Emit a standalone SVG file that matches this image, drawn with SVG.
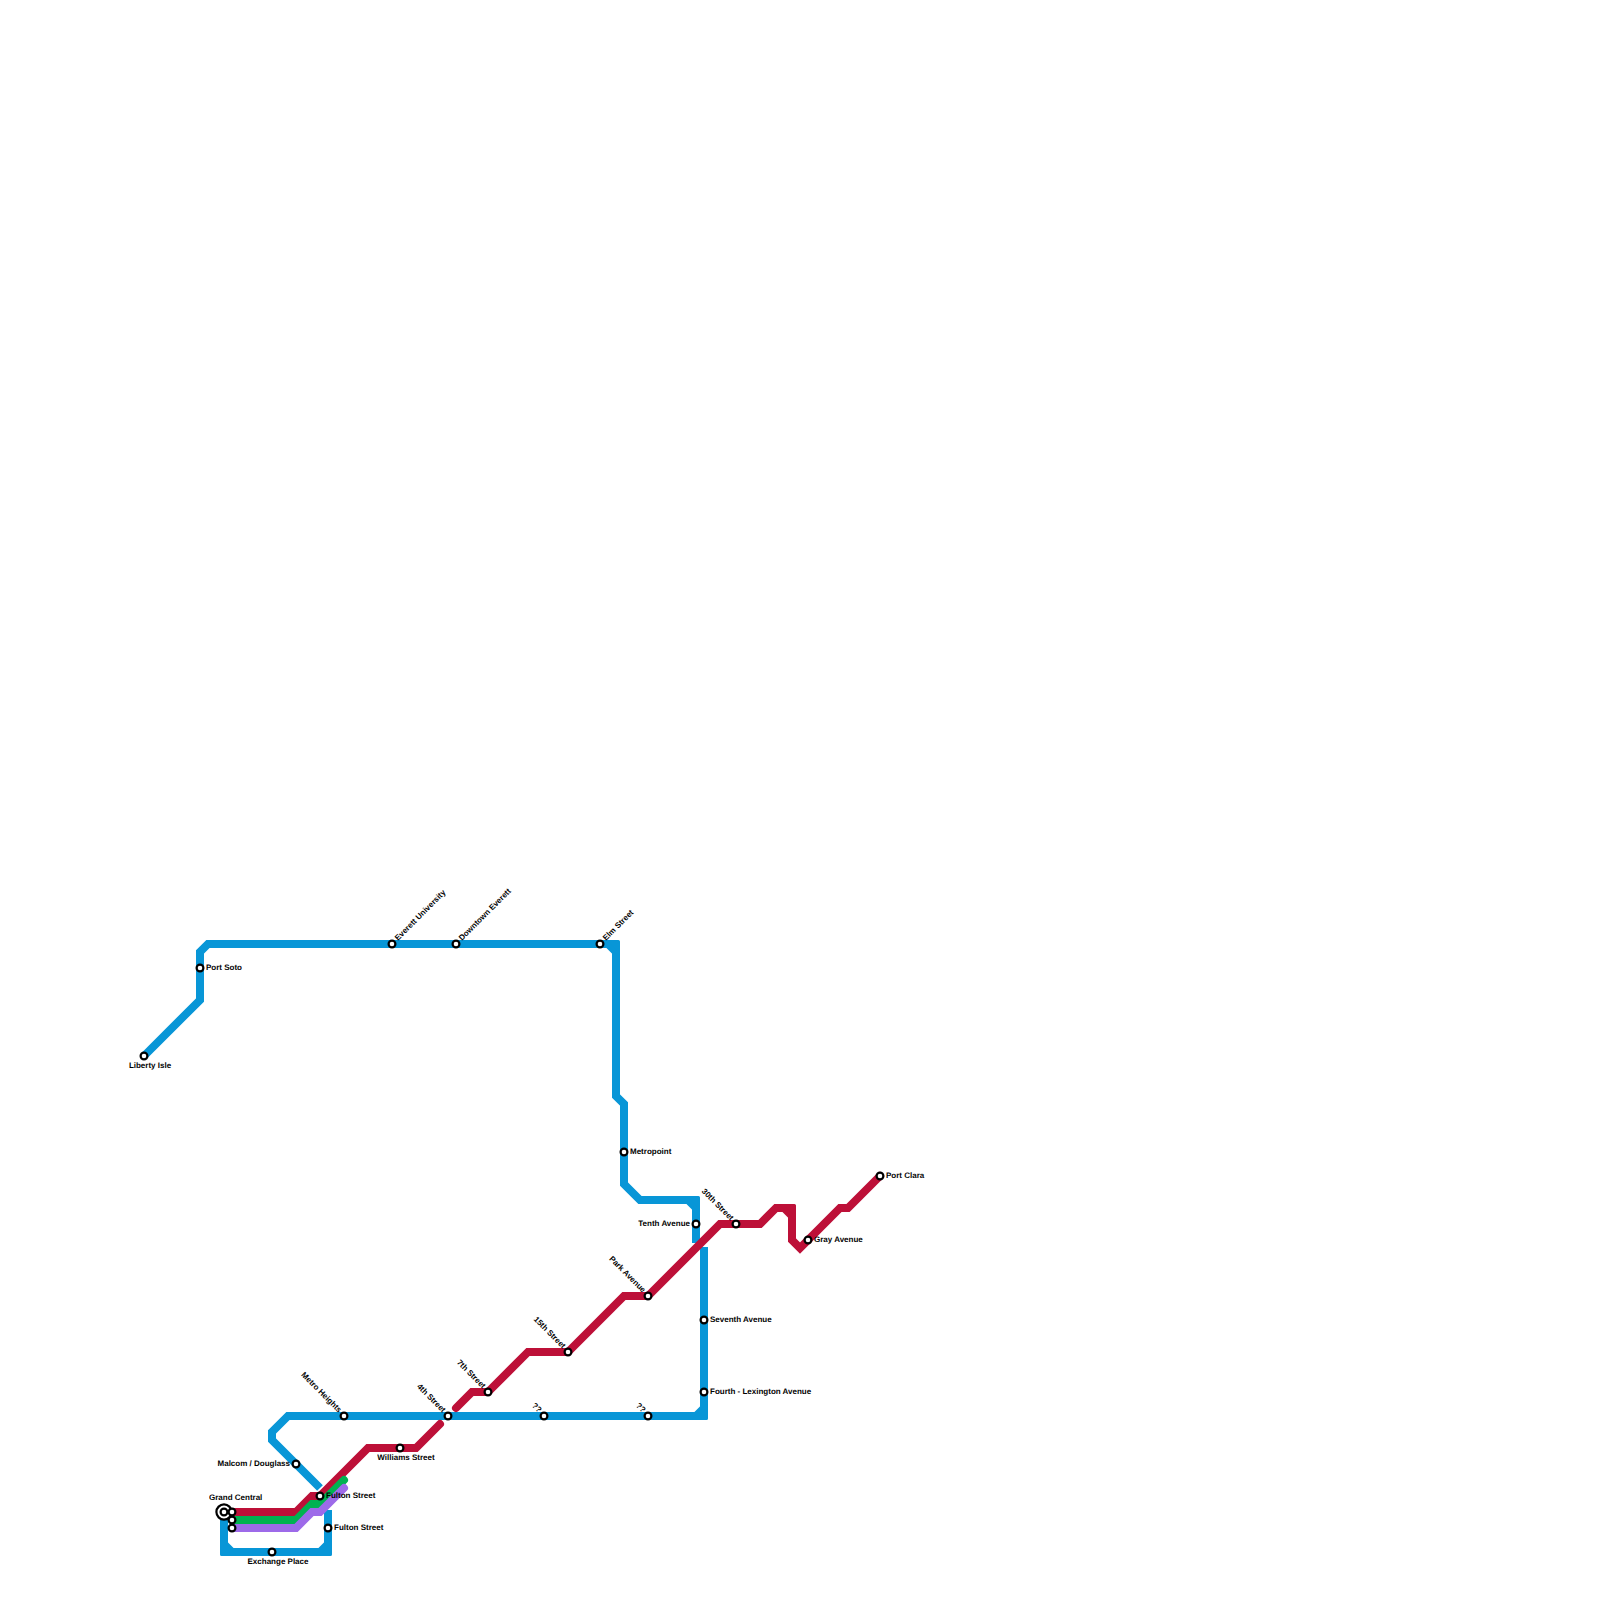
<svg xmlns="http://www.w3.org/2000/svg" width="1600" height="1600" viewBox="0 0 1600 1600">
<style>
.l{fill:none;stroke-width:8;stroke-linejoin:miter;stroke-linecap:butt}
.r{stroke-linecap:round}
.c{stroke-width:3;stroke-linejoin:round}
.b{stroke:#0896d7}.e{stroke:#bd1038}.g{stroke:#00b251}.p{stroke:#9d6ae9}
.c.b{fill:#0896d7}.c.e{fill:#bd1038}
.s{fill:#fff;stroke:#000;stroke-width:2.200}
text{font-family:"Liberation Sans",Arial,sans-serif;font-size:8px;font-weight:bold;fill:#000;text-rendering:geometricPrecision;opacity:.99}
.m{text-anchor:middle}.n{text-anchor:end}
</style>
<g id="connectors">
<path class="l b" d="M144 1056L200 1000V952L208 944H608L616 952V1096L624 1104V1184L640 1200H688L696 1208V1243"/>
<path class="c b" d="M606 941.500H618.500V954Z"/>
<path class="c b" d="M686 1197.500H698.500V1210Z"/>
<path class="l b" d="M704 1247V1408L696 1416H288L272 1432V1440L320 1488"/>
<path class="c b" d="M706.500 1418.500H694L706.500 1406Z"/>
<path class="l b" d="M224 1520V1544L232 1552H320L328 1544V1510"/>
<path class="c b" d="M221.500 1554.500H234L221.500 1542Z"/>
<path class="c b" d="M330.500 1554.500H318L330.500 1542Z"/>
<path class="l e r" d="M232 1512H296L312 1496H320L368 1448H416L440 1424"/>
<path class="l e r" d="M456 1408L472 1392H488L528 1352H568L624 1296H648L720 1224H760L776 1208H784L792 1216V1240L800 1248L840 1208H848L880 1176"/>
<path class="c e" d="M782 1205.500H794.500V1218Z"/>
<path class="l g r" d="M232 1520H296L312 1504H320L344 1480"/>
<path class="l p r" d="M232 1528H296L312 1512H320L344 1488"/>
</g>
<g id="grand-central"><circle class="s" cx="224" cy="1512" r="7.600"/><circle class="s" cx="224" cy="1512" r="3.400"/><circle class="s" cx="232" cy="1512" r="3.400"/><circle class="s" cx="232" cy="1520" r="3.400"/><circle class="s" cx="232" cy="1528" r="3.400"/><text x="209" y="1500">Grand Central</text></g>
<g id="liberty-isle"><circle class="s" cx="144" cy="1056" r="3.400"/><text x="150" y="1068" class="m">Liberty Isle</text></g>
<g id="port-soto"><circle class="s" cx="200" cy="968" r="3.400"/><text x="206" y="970">Port Soto</text></g>
<g id="everett-university"><circle class="s" cx="392" cy="944" r="3.400"/><text transform="translate(398 941) rotate(-45)">Everett University</text></g>
<g id="downtown-everett"><circle class="s" cx="456" cy="944" r="3.400"/><text transform="translate(462 941) rotate(-45)">Downtown Everett</text></g>
<g id="elm-street"><circle class="s" cx="600" cy="944" r="3.400"/><text transform="translate(606 941) rotate(-45)">Elm Street</text></g>
<g id="metropoint"><circle class="s" cx="624" cy="1152" r="3.400"/><text x="630" y="1154">Metropoint</text></g>
<g id="tenth-avenue"><circle class="s" cx="696" cy="1224" r="3.400"/><text x="690" y="1226" class="n">Tenth Avenue</text></g>
<g id="seventh-avenue"><circle class="s" cx="704" cy="1320" r="3.400"/><text x="710" y="1322">Seventh Avenue</text></g>
<g id="fourth-lexington"><circle class="s" cx="704" cy="1392" r="3.400"/><text x="710" y="1394">Fourth - Lexington Avenue</text></g>
<g id="unknown-east"><circle class="s" cx="648" cy="1416" r="3.400"/><text class="n" transform="translate(642.500 1413) rotate(45)">??</text></g>
<g id="unknown-west"><circle class="s" cx="544" cy="1416" r="3.400"/><text class="n" transform="translate(538.500 1413) rotate(45)">??</text></g>
<g id="fourth-street"><circle class="s" cx="448" cy="1416" r="3.400"/><text class="n" transform="translate(442.500 1413) rotate(45)">4th Street</text></g>
<g id="metro-heights"><circle class="s" cx="344" cy="1416" r="3.400"/><text class="n" transform="translate(338.500 1413) rotate(45)">Metro Heights</text></g>
<g id="malcom-douglass"><circle class="s" cx="296" cy="1464" r="3.400"/><text x="290" y="1466" class="n">Malcom / Douglass</text></g>
<g id="fulton-street-1"><circle class="s" cx="320" cy="1496" r="3.400"/><text x="326" y="1498">Fulton Street</text></g>
<g id="fulton-street-2"><circle class="s" cx="328" cy="1528" r="3.400"/><text x="334" y="1530">Fulton Street</text></g>
<g id="exchange-place"><circle class="s" cx="272" cy="1552" r="3.400"/><text x="278" y="1564" class="m">Exchange Place</text></g>
<g id="williams-street"><circle class="s" cx="400" cy="1448" r="3.400"/><text x="406" y="1460" class="m">Williams Street</text></g>
<g id="seventh-street"><circle class="s" cx="488" cy="1392" r="3.400"/><text class="n" transform="translate(482.500 1389) rotate(45)">7th Street</text></g>
<g id="fifteenth-street"><circle class="s" cx="568" cy="1352" r="3.400"/><text class="n" transform="translate(562.500 1349) rotate(45)">15th Street</text></g>
<g id="park-avenue"><circle class="s" cx="648" cy="1296" r="3.400"/><text class="n" transform="translate(642.500 1293) rotate(45)">Park Avenue</text></g>
<g id="thirtieth-street"><circle class="s" cx="736" cy="1224" r="3.400"/><text class="n" transform="translate(730.500 1221) rotate(45)">30th Street</text></g>
<g id="gray-avenue"><circle class="s" cx="808" cy="1240" r="3.400"/><text x="814" y="1242">Gray Avenue</text></g>
<g id="port-clara"><circle class="s" cx="880" cy="1176" r="3.400"/><text x="886" y="1178">Port Clara</text></g>
</svg>
